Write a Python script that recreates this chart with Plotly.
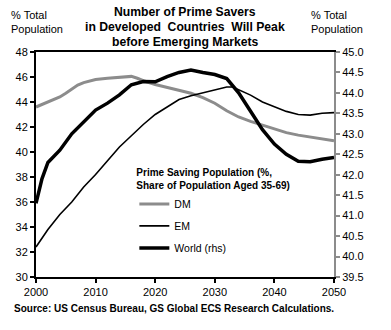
import plotly.graph_objects as go

# Prime saving population (share of population aged 35-69), %
dm_years = [2000, 2002, 2004, 2005, 2006, 2007, 2008, 2010, 2012, 2014, 2016, 2017,
            2018, 2020, 2022, 2024, 2026, 2028, 2030, 2032, 2034, 2036, 2038, 2040,
            2042, 2044, 2046, 2048, 2050]
dm_share = [43.6, 44.0, 44.4, 44.7, 45.05, 45.35, 45.55, 45.8, 45.9, 46.0, 46.05, 45.9,
            45.7, 45.4, 45.15, 44.95, 44.7, 44.35, 43.9, 43.3, 42.8, 42.45, 42.15, 41.8,
            41.55, 41.35, 41.2, 41.05, 40.9]

em_years = [2000, 2002, 2004, 2006, 2008, 2010, 2012, 2014, 2016, 2018, 2020, 2022,
            2024, 2026, 2028, 2030, 2032, 2033, 2034, 2036, 2038, 2040, 2042, 2044,
            2046, 2048, 2050]
em_share = [32.4, 33.8, 35.0, 36.0, 37.2, 38.2, 39.3, 40.4, 41.3, 42.2, 43.0, 43.6,
            44.2, 44.5, 44.75, 45.0, 45.2, 45.2, 45.0, 44.55, 44.0, 43.6, 43.25, 43.0,
            42.95, 43.1, 43.15]

world_years = [2000, 2001, 2002, 2004, 2006, 2008, 2010, 2012, 2014, 2016, 2018, 2020,
               2022, 2024, 2026, 2028, 2030, 2032, 2034, 2036, 2038, 2040, 2042, 2044,
               2046, 2048, 2050]
world_share = [41.3, 41.9, 42.3, 42.6, 43.0, 43.3, 43.58, 43.75, 43.95, 44.2, 44.28, 44.27,
               44.4, 44.5, 44.56, 44.5, 44.45, 44.35, 44.0, 43.55, 43.1, 42.75, 42.5, 42.33,
               42.32, 42.38, 42.42]

x_ticks = [2000, 2010, 2020, 2030, 2040, 2050]

title_lines = ["Number of Prime Savers",
               "in Developed  Countries  Will Peak",
               "before Emerging Markets"]

FONT = "Liberation Sans, Arial, sans-serif"

fig = go.Figure()
fig.add_trace(go.Scatter(x=dm_years, y=dm_share, name="DM", mode="lines",
                         legendgroup="a", line=dict(color="#8c8c8c", width=3)))
fig.add_trace(go.Scatter(x=em_years, y=em_share, name="EM", mode="lines",
                         legendgroup="b", line=dict(color="black", width=1.6)))
fig.add_trace(go.Scatter(x=world_years, y=world_share, name="World (rhs)", mode="lines",
                         legendgroup="c", yaxis="y2", line=dict(color="black", width=3.5)))

fig.update_layout(
    width=391, height=330,
    margin=dict(l=36, r=57, t=52, b=53),
    paper_bgcolor="white", plot_bgcolor="white",
    font=dict(family=FONT, size=11, color="black"),
    showlegend=True,
    legend=dict(
        x=0.33, y=0.505, xanchor="left", yanchor="top",
        bgcolor="rgba(0,0,0,0)", tracegroupgap=3, itemwidth=30,
        font=dict(size=10.5, family=FONT),
        title=dict(text="<b>Prime Saving Population (%,<br>Share of Population Aged 35-69)</b>",
                   font=dict(size=10, family=FONT), side="top"),
    ),
    xaxis=dict(
        range=[2000, 2050], tickvals=x_ticks, ticks="outside", ticklen=4,
        tickwidth=1.5, tickcolor="black", showgrid=False, zeroline=False,
        showline=True, linecolor="black", linewidth=2, mirror=True,
        tickfont=dict(size=11),
    ),
    yaxis=dict(
        range=[30, 48], dtick=2, ticks="outside", ticklen=4, tickwidth=1.5,
        tickcolor="black", showgrid=False, zeroline=False,
        showline=True, linecolor="black", linewidth=2, tickfont=dict(size=11),
    ),
    yaxis2=dict(
        range=[39.5, 45], dtick=0.5, tickformat=".1f", overlaying="y", side="right",
        ticks="outside", ticklen=4, tickwidth=1.5, tickcolor="#8c8c8c",
        showgrid=False, zeroline=False, showline=True, linecolor="#8c8c8c",
        linewidth=2, tickfont=dict(size=11),
    ),
)

annotations = []
for i, line in enumerate(title_lines):
    annotations.append(dict(
        text=f"<b>{line}</b>", x=0.5, y=1.0, xref="paper", yref="paper",
        xanchor="center", yanchor="middle", yshift=40 - 15 * i, showarrow=False,
        font=dict(size=12.2, family=FONT)))

annotations += [
    dict(text="% Total<br>Population", x=-0.09, y=1.0, xref="paper", yref="paper",
         xanchor="left", yanchor="bottom", yshift=15, showarrow=False, align="left",
         font=dict(size=11, family=FONT)),
    dict(text="% Total<br>Population", x=0.915, y=1.0, xref="paper", yref="paper",
         xanchor="left", yanchor="bottom", yshift=15, showarrow=False, align="left",
         font=dict(size=11, family=FONT)),
    dict(text="<b>Source: US Census Bureau, GS Global ECS Research Calculations.</b>",
         x=-0.08, y=0, xref="paper", yref="paper", xanchor="left", yanchor="top",
         yshift=-24, showarrow=False, font=dict(size=10, family=FONT)),
]
fig.update_layout(annotations=annotations)

fig.write_html("out.html")
